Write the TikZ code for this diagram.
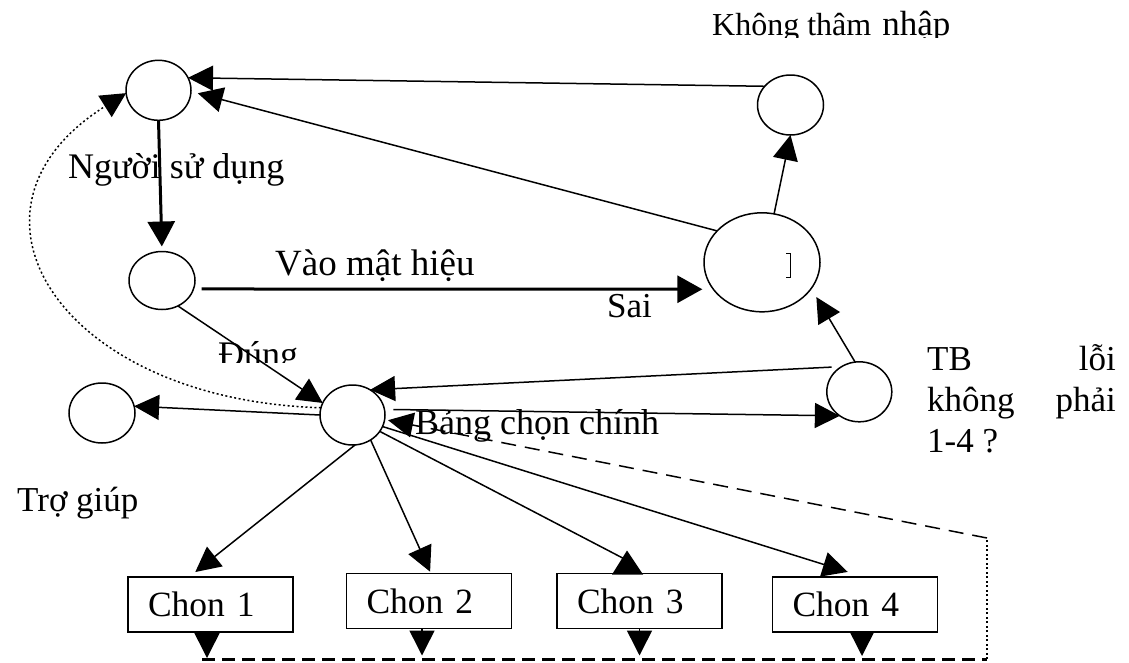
\documentclass[tikz,border=0pt]{standalone}
\usepackage{fontspec}
\setmainfont{Liberation Serif}
\usetikzlibrary{arrows.meta,shapes.geometric,calc}
\begin{document}
\begin{tikzpicture}[x=1pt,y=-1pt,
  circ/.style={ellipse,draw,line width=1.5pt,inner sep=0pt,outer sep=0pt},
  box/.style={rectangle,draw,line width=1.5pt,inner xsep=20pt,inner ysep=0pt,outer sep=0pt,
    minimum height=55pt,text width=125pt,align=left,font=\fontsize{35.5}{35.5}\selectfont},
  lbl/.style={inner sep=0pt,anchor=base west,font=\fontsize{36}{41}\selectfont},
  tip/.style={-{Triangle[length=25pt,width=25pt]}},
  arr/.style={line width=1.5pt,tip},
  thickarr/.style={line width=3pt,-{Triangle[length=25pt,width=27pt]}},
  dotline/.style={line width=1.5pt,dash pattern=on 2pt off 2.5pt},
  thickdash/.style={line width=3pt,dash pattern=on 13pt off 7pt},
  thindash/.style={line width=1.5pt,dash pattern=on 15pt off 9pt}
]
\useasboundingbox (0,0) rectangle (1129,662);

% states
\node[circ,minimum width=65pt,minimum height=60pt] (N1) at (158.5,90.3) {};
\node[circ,minimum width=66pt,minimum height=58pt] (N2) at (162,280.5) {};
\node[circ,minimum width=66pt,minimum height=60pt] (KTN) at (790.5,105) {};
\node[circ,minimum width=116pt,minimum height=99pt] (BIG) at (762,262.3) {};
\node[circ,minimum width=65pt,minimum height=60pt] (M) at (352.5,415) {};
\node[circ,minimum width=66pt,minimum height=60pt] (H) at (102,413) {};
\node[circ,minimum width=65pt,minimum height=60pt] (TB) at (859.3,391.8) {};

% boxes
\node[box] (C1) at (210.5,604.5) {Chon 1};
\node[box] (C2) at (429,601) {Chon 2};
\node[box] (C3) at (639.5,601) {Chon 3};
\node[box] (C4) at (855,604.5) {Chon 4};

% stray mark inside BIG
\draw[line width=0.9pt] (786,253.5) -- (790,253.5) -- (790,277) -- (786,277);

% connectors
\draw[thickarr,shorten >=5pt] (N1.south) -- (N2.north);
\draw[thickarr,shorten <=8pt,shorten >=11pt] (N2.-15) -- (BIG.209);
\draw[arr] (KTN.144) -- (N1.23);
\draw[arr,shorten >=7pt] (BIG.145) -- (N1.-2);
\draw[arr] (BIG.76) -- (KTN.south);
\draw[arr] (N2.-58) -- (M.158);
\draw[arr] (M.west) -- (H.12);
\draw[dotline,tip] (M.167) .. controls (60,400) and (-60,210) .. (N1.185);
\draw[arr,shorten <=10pt] (TB.125) -- (M.55);
\draw[arr,shorten <=9pt] (M.10) -- (TB.231);
\draw[arr,shorten >=10pt] (TB.98) -- (BIG.-28);
\draw[arr,shorten >=8pt] (M.-85) -- (C1.128);
\draw[arr,shorten >=2pt] (M.-54) -- (C2.86);
\draw[line width=1.5pt] (M.-31) -- ($(C3.north)+(-14,-14)$);
\fill ($(C3.north)+(-12.5,-23)$) -- ($(C3.north)+(-27.5,1)$) -- ($(C3.north)+(3.5,1)$) -- cycle;
\draw[arr,shorten >=17pt] (M.-21) -- (C4.72);

% bottom arrows onto the dashed return line
\draw[arr] ([xshift=-3.5pt]C1.south) -- ++(0,26);
\draw[arr] ([xshift=-7pt]C2.south) -- ++(0,27);
\draw[arr] (C3.south) -- ++(0,27);
\draw[arr] ([xshift=7pt]C4.south) -- ++(0,24);

% dashed return path
\coordinate (L1) at (202,659);
\coordinate (L2) at (987,659);
\coordinate (L3) at (987,538);
\draw[thickdash] (L1) -- (L2);
\draw[dotline] (L2) -- (L3);
\draw[thindash,tip,shorten >=3.5pt] (L3) -- (M.-8);

% labels
\begin{scope}
\clip (0,0) rectangle (1129,37);
\node[lbl,font=\fontsize{32}{32}\selectfont] (t1) at (712,35) {Không thâm\hspace{11pt}{\fontsize{35}{35}\selectfont nhập}};
\end{scope}
\node[lbl] (t2) at (68,178) {Người sử dụng};
\node[lbl,font=\fontsize{37}{37}\selectfont] (t3) at (275,275) {Vào mật hiệu};
\node[lbl,font=\fontsize{35}{35}\selectfont] (t4) at (607,317) {Sai};
\begin{scope}
\clip (0,0) rectangle (1129,362);
\node[lbl] (t5) at (218,366) {Đúng};
\end{scope}
\node[lbl] (t6) at (415,434) {Bảng chọn chính};
\node[lbl,font=\fontsize{35}{35}\selectfont] (t7) at (17,511) {Trợ giúp};
\node[lbl,font=\fontsize{35}{35}\selectfont] (t8) at (927,370) {TB};
\node[lbl,font=\fontsize{35}{35}\selectfont,anchor=base east] (t9) at (1116,370) {lỗi};
\node[lbl,font=\fontsize{35}{35}\selectfont] (t10) at (927,411) {không};
\node[lbl,font=\fontsize{35}{35}\selectfont,anchor=base east] (t11) at (1116,411) {phải};
\node[lbl,font=\fontsize{35}{35}\selectfont] (t12) at (927,452) {1-4 ?};
\end{tikzpicture}
\end{document}
